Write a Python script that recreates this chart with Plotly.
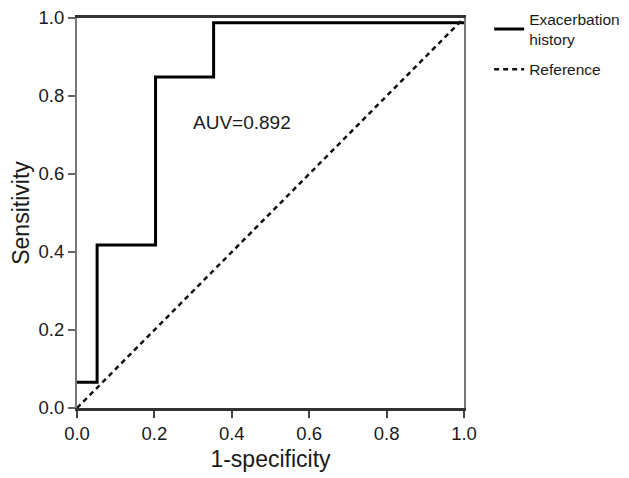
import plotly.graph_objects as go

# ROC step curve
roc_fpr = [0.0, 0.052, 0.052, 0.203, 0.203, 0.353, 0.353, 1.0]
roc_tpr = [0.066, 0.066, 0.418, 0.418, 0.849, 0.849, 0.988, 0.988]

ref_x = [0.0, 1.0]
ref_y = [0.0, 1.0]

tick_vals = [0.0, 0.2, 0.4, 0.6, 0.8, 1.0]
tick_text = ["0.0", "0.2", "0.4", "0.6", "0.8", "1.0"]

font_family = "Liberation Sans, Arial, sans-serif"

fig = go.Figure()

fig.add_trace(go.Scatter(
    x=roc_fpr, y=roc_tpr, mode="lines",
    line=dict(color="black", width=3),
    name="Exacerbation<br>history", legendgroup="roc",
))
fig.add_trace(go.Scatter(
    x=ref_x, y=ref_y, mode="lines",
    line=dict(color="#111111", width=2.5, dash="5px,4px"),
    name="Reference", legendgroup="ref",
))

fig.add_annotation(
    x=0.427, y=0.733, text="AUV=0.892", showarrow=False,
    font=dict(size=19, color="#1a1a1a", family=font_family),
)

axis_common = dict(
    range=[0, 1], tickvals=tick_vals, ticktext=tick_text,
    showgrid=False, zeroline=False, showline=True, mirror=True,
    ticks="outside", ticklen=7, tickwidth=2, automargin=False,
    ticklabeloverflow="allow",
    tickfont=dict(size=18.5, color="#1a1a1a", family=font_family),
)

fig.update_xaxes(
    **axis_common, linecolor="#333333", linewidth=3, tickcolor="#444444",
    title=dict(text="1-specificity", font=dict(size=23, color="#1a1a1a", family=font_family), standoff=8),
)
fig.update_yaxes(
    **axis_common, linecolor="#777777", linewidth=2, tickcolor="#666666",
    title=dict(text="Sensitivity", font=dict(size=23, color="#1a1a1a", family=font_family), standoff=19),
)

# the page body adds an 8px offset; the figure runs to the window's right/bottom edge
fig.update_layout(
    width=621, height=470,
    margin=dict(l=69, r=165, t=10, b=70, autoexpand=False),
    plot_bgcolor="white", paper_bgcolor="white",
    font=dict(family=font_family, color="#1a1a1a"),
    showlegend=True,
    legend=dict(
        x=1.065, y=1.04, xanchor="left", yanchor="top",
        font=dict(size=15.5, color="#1a1a1a", family=font_family),
        itemwidth=30, tracegroupgap=7,
    ),
)

fig.write_html("out.html")
